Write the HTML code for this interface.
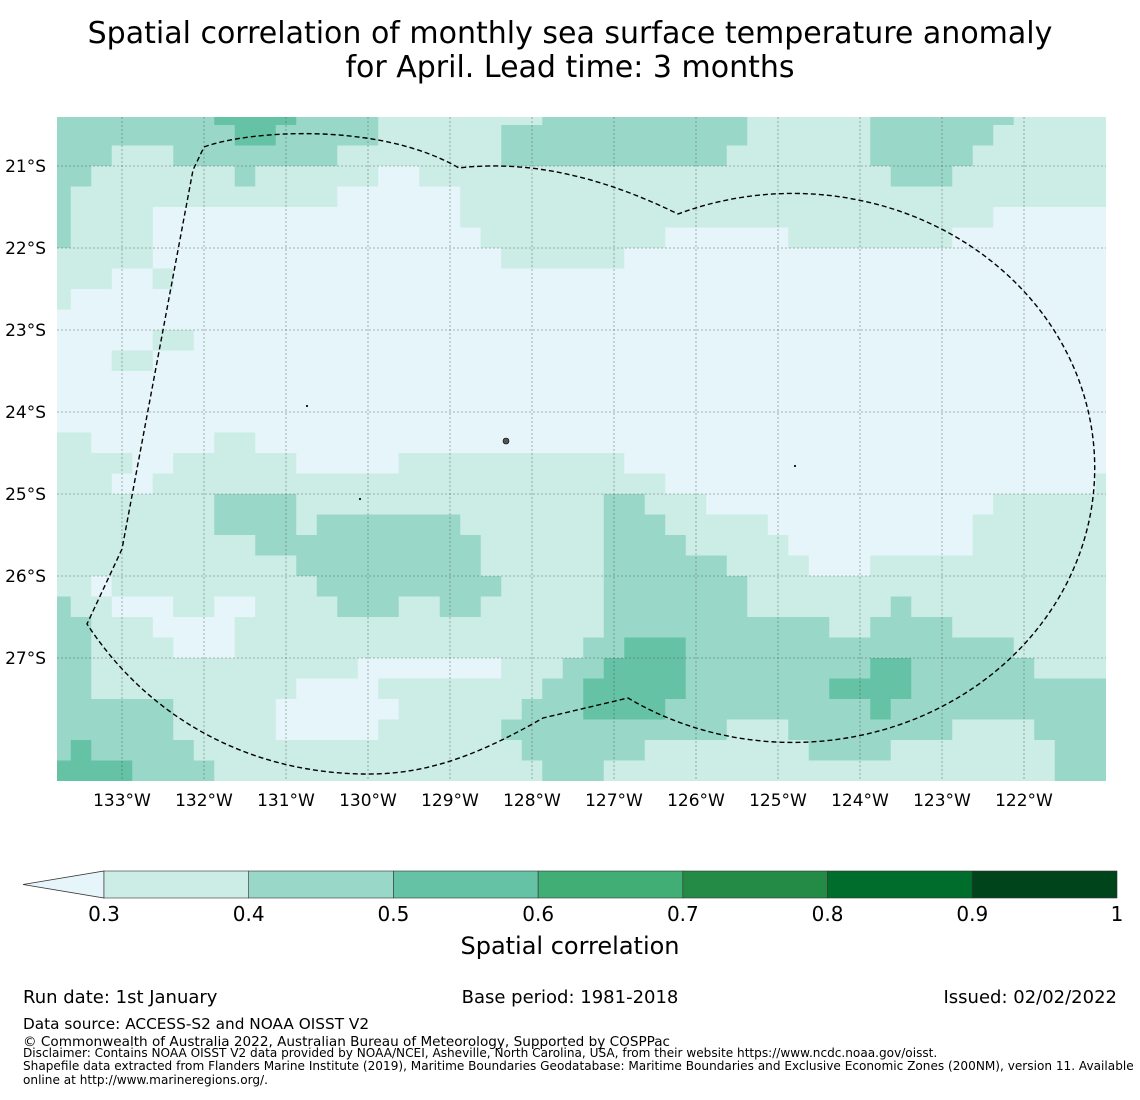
<!DOCTYPE html>
<html><head><meta charset="utf-8">
<style>
html,body{margin:0;padding:0;background:#fff;}
body{width:1140px;height:1095px;overflow:hidden;font-family:"Liberation Sans","DejaVu Sans",sans-serif;}
svg text{font-family:"DejaVu Sans","Liberation Sans",sans-serif;}
</style></head>
<body>
<svg id="chart" width="1140" height="1095" viewBox="0 0 1140 1095" xmlns="http://www.w3.org/2000/svg">
<text x="570" y="43" font-size="30" text-anchor="middle" fill="#000">Spatial correlation of monthly sea surface temperature anomaly</text>
<text x="570" y="77" font-size="30" text-anchor="middle" fill="#000">for April. Lead time: 3 months</text>
<g id="cells"></g>
<g id="grid"></g>
<path d="M204,147 C250,130 380,122 459,168 Q560,156 678,214 A302,274.5 0 1 1 628,698 L543,718 C470,760 420,775 362,774 C250,772 150,720 87,624 L122,549 L193,170 Z" fill="none" stroke="#000" stroke-width="1.4" stroke-dasharray="5,3"/>
<g fill="#555" stroke="#000" stroke-width="0.6">
<circle cx="506" cy="441" r="3"/><circle cx="307" cy="406" r="0.8"/><circle cx="360" cy="499" r="0.8"/><circle cx="795" cy="466" r="0.8"/>
</g>
<g id="axes"></g>
<g id="cbar"></g>
<text x="570" y="954" font-size="24" text-anchor="middle">Spatial correlation</text>
<text x="23" y="1003" font-size="18">Run date: 1st January</text>
<text x="570" y="1003" font-size="18" text-anchor="middle">Base period: 1981-2018</text>
<text x="1117" y="1003" font-size="18" text-anchor="end">Issued: 02/02/2022</text>
<text x="23" y="1029" font-size="15.3">Data source: ACCESS-S2 and NOAA OISST V2</text>
<text x="23" y="1046" font-size="13.6">© Commonwealth of Australia 2022, Australian Bureau of Meteorology, Supported by COSPPac</text>
<text x="23" y="1057" font-size="12.1">Disclaimer: Contains NOAA OISST V2 data provided by NOAA/NCEI, Asheville, North Carolina, USA, from their website https://www.ncdc.noaa.gov/oisst.</text>
<text x="23" y="1070" font-size="12.1">Shapefile data extracted from Flanders Marine Institute (2019), Maritime Boundaries Geodatabase: Maritime Boundaries and Exclusive Economic Zones (200NM), version 11. Available</text>
<text x="23" y="1084" font-size="12.1">online at http://www.marineregions.org/.</text>
</svg>
<script>
// level codes: 0 <0.3, 1 0.3-0.4, 2 0.4-0.5, 3 0.5-0.6
const rows = [
"2222222233332222111111112222222222111111222222211111",
"2222222223322222111111222222222222111111222222111111",
"2221112222222211111111222222222221111111222221111111",
"2211111112111111001111111111111111111111122211111111",
"2111111111111100000011111111111111111111111111111111",
"2111100000000000000011111111111111111111111111000000",
"2111100000000000000001111111110000001111111100000000",
"1111100000000000000000111111000000000000000000000000",
"1110010000000000000000000000000000000000000000000000",
"1000000000000000000000000000000000000000000000000000",
"0000000000000000000000000000000000000000000000000000",
"0000011000000000000000000000000000000000000000000000",
"0001100000000000000000000000000000000000000000000000",
"0000000000000000000000000000000000000000000000000000",
"0000000000000000000000000000000000000000000000000000",
"0000000000000000000000000000000000000000000000000000",
"1100000011000000000000000000000000000000000000000000",
"1111001111110000011111111111000000000000000000000000",
"1110011111111111111111111111110000000000000000000001",
"1111111122221111111111111112211100000000000000111111",
"1111111122221222222211111112221111100000000001111111",
"1111111111222222222221111112222111110000000001111111",
"1111111111112222222221111112222221111000111111111111",
"1101111111111222222222111112222222111111111111111111",
"2110001100111122211221111112222222111111121111111111",
"2211100001111111111111111112222222222211222211111111",
"2211110001111111111111111122333222222222222222211111",
"2211111111111110000000111223333222222222332222221111",
"2211111111110000111111112233333222222233332222222222",
"2222221111100000011111122233332222222222322222222222",
"2222221111100000111111222222222221112222222211112222",
"2322222111111111111111122222211111111222211111111222",
"3333222211111111111111112221111111111111111111111222"
];
const levelColors = ["#e5f5f9","#ccece6","#99d8c9","#66c2a4"];
const lonTicks = [-133,-132,-131,-130,-129,-128,-127,-126,-125,-124,-123,-122];
const latTicks = [-21,-22,-23,-24,-25,-26,-27];
const cbarBounds = [0.3,0.4,0.5,0.6,0.7,0.8,0.9,1];
const cbarColors = ["#ccece6","#99d8c9","#66c2a4","#41ae76","#238b45","#006d2c","#00441b"];
const cbarLabels = ["0.3","0.4","0.5","0.6","0.7","0.8","0.9","1"];

const NS="http://www.w3.org/2000/svg";
const mapL=57,mapR=1106,mapT=117,mapB=781;
function xScale(lon){return 122+(lon+133)*82;}
function yScale(lat){return 166+(-21-lat)*82;}
function mk(tag,attrs,parent){const e=document.createElementNS(NS,tag);for(const k in attrs)e.setAttribute(k,attrs[k]);parent.appendChild(e);return e;}

const cells=document.getElementById('cells');
rows.forEach((row,r)=>{
  const latTop=-20.25-0.25*r, latBot=latTop-0.25;
  const y0=Math.max(mapT,yScale(latTop)), y1=Math.min(mapB,yScale(latBot));
  for(let c=0;c<row.length;c++){
    const lonL=-133.875+0.25*c, lonR=lonL+0.25;
    const x0=Math.max(mapL,xScale(lonL)), x1=Math.min(mapR,xScale(lonR));
    if(x1<=x0||y1<=y0) continue;
    const rect=mk('rect',{x:x0,y:y0,width:Math.min(mapR,x1+0.4)-x0,height:Math.min(mapB,y1+0.4)-y0,fill:levelColors[+row[c]]},cells);
    
    
  }
});

const grid=document.getElementById('grid');
const axes=document.getElementById('axes');
lonTicks.forEach(lon=>{
  const x=xScale(lon);
  const l=mk('line',{x1:x,x2:x,y1:mapT,y2:mapB,stroke:'#444','stroke-opacity':0.5,'stroke-width':0.8,'stroke-dasharray':'2,2'},grid);
  
  
  const t=mk('text',{x:x,y:806,'font-size':17,'text-anchor':'middle'},axes);
  t.textContent=Math.abs(lon)+'°W';
  
  
});
latTicks.forEach(lat=>{
  const y=yScale(lat);
  const l=mk('line',{x1:mapL,x2:mapR,y1:y,y2:y,stroke:'#444','stroke-opacity':0.5,'stroke-width':0.8,'stroke-dasharray':'2,2'},grid);
  
  
  const t=mk('text',{x:46,y:y+6,'font-size':17,'text-anchor':'end'},axes);
  t.textContent=Math.abs(lat)+'°S';
  
  
});

const cbar=document.getElementById('cbar');
const cbL=104,cbR=1117,cbT=871,cbB=898;
function cbX(v){return cbL+(v-0.3)/0.7*(cbR-cbL);}
const tri=mk('polygon',{points:`${cbL},${cbT} ${cbL},${cbB} 23,${(cbT+cbB)/2}`,fill:'#e5f5f9',stroke:'#333','stroke-width':0.8},cbar);


cbarColors.forEach((col,i)=>{
  const x0=cbX(cbarBounds[i]),x1=cbX(cbarBounds[i+1]);
  const r=mk('rect',{x:x0,y:cbT,width:x1-x0,height:cbB-cbT,fill:col,stroke:'#333','stroke-width':0.6},cbar);
  
  
});
cbarLabels.forEach((lab,i)=>{
  const t=mk('text',{x:cbX(cbarBounds[i]),y:921,'font-size':20,'text-anchor':'middle'},cbar);
  t.textContent=lab;
  
  
});
</script>
</body></html>
